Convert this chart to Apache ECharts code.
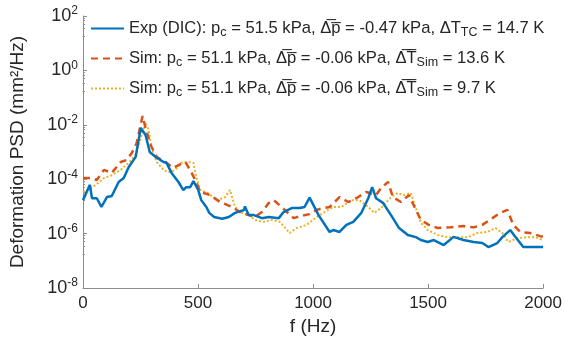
<!DOCTYPE html>
<html>
<head>
<meta charset="utf-8">
<script src="https://cdn.jsdelivr.net/npm/echarts@6/dist/echarts.min.js"></script>
<style>
html,body{margin:0;padding:0;background:#fff;}
#chart{width:565px;height:347px;}
</style>
</head>
<body>
<div id="chart"></div>
<script>
// Frequencies (Hz) and PSD values (mm^2/Hz)
const expF = [0,30,39,60,80,104,125,155,177,199,229,251,256,272,290,315,350,363,385,415,436,449,466,480,501,514,536,549,570,605,634,661,700,704,720,743,778,808,851,872,907,942,963,985,1024,1072,1088,1115,1145,1175,1210,1240,1257,1274,1304,1339,1374,1412,1447,1469,1499,1525,1568,1611,1654,1698,1736,1762,1801,1823,1857,1879,1914,1957,2000];
const expV = [1.7e-5,6.2e-5,2.0e-5,2.0e-5,9.5e-6,2.2e-5,2.4e-5,7.9e-5,1.1e-4,2.8e-4,6.6e-4,7.6e-3,8.3e-3,4.2e-3,1.0e-3,6.6e-4,4.3e-4,4.0e-4,1.7e-4,7.9e-5,4.0e-5,5.1e-5,5.1e-5,8.5e-5,4.0e-5,1.7e-5,9.5e-6,5.8e-6,4.1e-6,3.5e-6,4.1e-6,5.8e-6,7.4e-6,1.0e-5,4.8e-6,4.8e-6,3.7e-6,4.1e-6,3.7e-6,6.2e-6,8.7e-6,8.7e-6,9.5e-6,2.1e-5,4.8e-6,1.15e-6,1.35e-6,1.15e-6,2.1e-6,2.7e-6,5.8e-6,2.0e-5,5.1e-5,2.0e-5,1.35e-5,4.8e-6,1.6e-6,8.9e-7,7.4e-7,5.8e-7,4.9e-7,5.8e-7,3.8e-7,7.6e-7,5.8e-7,4.9e-7,4.5e-7,3.2e-7,4.5e-7,7.4e-7,1.35e-6,7.6e-7,3.2e-7,3.2e-7,3.2e-7];

const sim1F = [0,39,60,91,125,164,190,212,233,259,272,294,320,363,393,415,445,471,492,510,553,596,648,682,721,747,778,808,829,855,877,916,950,985,1015,1045,1072,1115,1153,1188,1231,1274,1296,1326,1347,1382,1417,1447,1469,1503,1542,1598,1654,1698,1736,1780,1814,1845,1870,1901,1944,1987,2000];
const sim1V = [1.1e-4,1.1e-4,9.3e-5,2.2e-4,1.7e-4,4.3e-4,5.1e-4,9.1e-4,2.1e-3,2.1e-2,7.6e-3,1.8e-3,6.6e-4,4.0e-4,2.6e-4,3.3e-4,4.3e-4,1.8e-4,7.9e-5,3.4e-5,2.6e-5,1.45e-5,9.5e-6,6.2e-6,4.8e-6,4.1e-6,6.2e-6,1.35e-5,1.7e-5,1.1e-5,7.4e-6,3.7e-6,4.5e-6,5.2e-6,7.4e-6,8.7e-6,9.5e-6,2.2e-5,1.45e-5,2.0e-5,3.4e-5,2.6e-5,4.8e-5,7.9e-5,2.2e-5,1.45e-5,2.6e-5,7.4e-6,3.2e-6,2.1e-6,1.6e-6,1.7e-6,1.9e-6,1.7e-6,2.1e-6,3.7e-6,5.8e-6,7.4e-6,2.1e-6,1.15e-6,1.05e-6,8.1e-7,7.6e-7];

const sim2F = [0,20,56,91,125,164,199,229,255,272,285,298,320,350,371,402,428,458,480,492,510,540,583,618,639,661,682,721,747,786,821,855,877,898,929,972,1015,1050,1088,1123,1166,1201,1240,1266,1296,1339,1369,1395,1425,1447,1469,1499,1542,1585,1628,1672,1715,1758,1793,1823,1849,1888,1931,1966,2000];
const sim2V = [3.4e-5,4.0e-5,6.2e-5,1.1e-4,1.4e-4,2.2e-4,4.0e-4,7.8e-4,4.2e-3,1.2e-2,6.5e-3,1.5e-3,4.3e-4,2.2e-4,1.8e-4,2.2e-4,4.0e-4,4.3e-4,4.0e-4,1.2e-4,4.0e-5,3.2e-5,1.7e-5,2.2e-5,4.0e-5,9.5e-6,6.2e-6,4.8e-6,3.2e-6,2.7e-6,3.2e-6,2.7e-6,1.7e-6,1.05e-6,1.6e-6,2.1e-6,4.0e-6,6.2e-6,9.5e-6,9.5e-6,1.7e-5,1.7e-5,9.5e-6,5.8e-6,8.7e-6,2.2e-5,3.1e-5,2.6e-5,3.1e-5,8.7e-6,2.5e-6,1.35e-6,8.9e-7,7.4e-7,7.4e-7,7.4e-7,1.05e-6,1.15e-6,1.6e-6,1.05e-6,4.9e-7,6.8e-7,7.4e-7,7.4e-7,5.8e-7];

const xTicks = [0, 500, 1000, 1500, 2000];
const seriesNames = ['exp', 'sim1', 'sim2'];
const legendTexts = {
  exp:  '{n|Exp (DIC): p}{sub|c}{n| = 51.5 kPa, \u0394\u0305p\u0305 = -0.47 kPa, \u0394T}{sub|TC}{n| = 14.7 K}',
  sim1: '{n|Sim: p}{sub|c}{n| = 51.1 kPa, \u0394\u0305p\u0305 = -0.06 kPa, \u0394\u0305T\u0305}{sub|Sim}{n| = 13.6 K}',
  sim2: '{n|Sim: p}{sub|c}{n| = 51.1 kPa, \u0394\u0305p\u0305 = -0.06 kPa, \u0394\u0305T\u0305}{sub|Sim}{n| = 9.7 K}'
};

function pairs(f, v) { return f.map((x, i) => [x, v[i]]); }

const textColor = '#262626';
const axisColor = '#8c8c8c';
const font = 'Liberation Sans, Arial, sans-serif';

const chart = echarts.init(document.getElementById('chart'), null, {renderer: 'canvas'});
chart.setOption({
  animation: false,
  backgroundColor: '#fff',
  textStyle: {fontFamily: font},
  grid: {left: 80, right: 21, top: 16, bottom: 59, containLabel: false},
  legend: {
    orient: 'vertical',
    left: 90, top: 20, padding: 0,
    itemWidth: 33, itemHeight: 10, itemGap: 10.5,
    data: seriesNames,
    itemStyle: {opacity: 0},
    formatter: function (name) { return legendTexts[name]; },
    textStyle: {
      fontFamily: font,
      rich: {
        n: {fontSize: 16.6, lineHeight: 22, color: textColor, fontFamily: font},
        sub: {fontSize: 12.5, lineHeight: 8, verticalAlign: 'bottom', color: textColor, fontFamily: font}
      }
    }
  },
  xAxis: {
    type: 'value',
    min: xTicks[0], max: xTicks[xTicks.length - 1], interval: 500,
    name: 'f (Hz)', nameLocation: 'middle', nameGap: 27,
    nameTextStyle: {fontSize: 19, color: textColor, fontFamily: font},
    axisLine: {show: true, lineStyle: {color: axisColor, width: 1}},
    axisTick: {show: true, inside: true, length: 4, lineStyle: {color: axisColor}},
    axisLabel: {fontSize: 17, color: textColor, margin: 7, fontFamily: font,
      formatter: function (v) { return String(v); }},
    splitLine: {show: false}
  },
  yAxis: {
    type: 'log', logBase: 10,
    min: 1e-8, max: 1e2, interval: 2,
    name: 'Deformation PSD (mm\u00B2/Hz)', nameLocation: 'middle', nameGap: 56,
    nameTextStyle: {fontSize: 19, color: textColor, fontFamily: font},
    axisLine: {show: true, lineStyle: {color: axisColor, width: 1}},
    axisTick: {show: true, inside: true, length: 4, lineStyle: {color: axisColor}},
    minorTick: {show: true, splitNumber: 6, length: 2, lineStyle: {color: axisColor}},
    axisLabel: {
      margin: 5,
      formatter: function (v) {
        const e = Math.round(Math.log10(v));
        return '{b|10}{s|' + e + '}';
      },
      rich: {
        b: {fontSize: 18, lineHeight: 22, color: textColor, fontFamily: font},
        s: {fontSize: 12, lineHeight: 8, verticalAlign: 'top', color: textColor, fontFamily: font}
      }
    },
    splitLine: {show: false}
  },
  series: [
    {name: 'exp', type: 'line', data: pairs(expF, expV), showSymbol: false, symbol: 'none',
     lineStyle: {color: '#0072BD', width: 2.5}, itemStyle: {color: '#0072BD'}, z: 3},
    {name: 'sim1', type: 'line', data: pairs(sim1F, sim1V), showSymbol: false, symbol: 'none',
     lineStyle: {color: '#D95319', width: 2.5, type: [7, 5]}, itemStyle: {color: '#D95319'}, z: 2},
    {name: 'sim2', type: 'line', data: pairs(sim2F, sim2V), showSymbol: false, symbol: 'none',
     lineStyle: {color: '#EDB120', width: 2, type: [2, 2]}, itemStyle: {color: '#EDB120'}, z: 1}
  ]
});
</script>
</body>
</html>
